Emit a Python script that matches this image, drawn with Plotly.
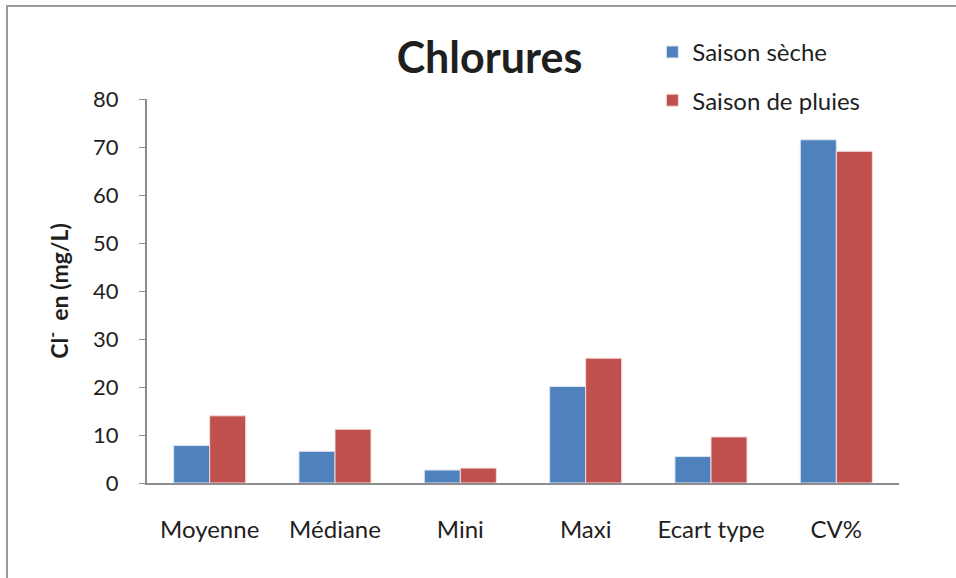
import plotly.graph_objects as go

categories = ["Moyenne", "Médiane", "Mini", "Maxi", "Ecart type", "CV%"]
saison_seche = [7.8, 6.6, 2.7, 20.1, 5.5, 71.5]
saison_pluies = [14.0, 11.2, 3.1, 26.0, 9.6, 69.1]
y_ticks = [0, 10, 20, 30, 40, 50, 60, 70, 80]

FONT = "Lato"
TEXT = "#1f1f1f"
AXIS = "#8c8c8c"

fig = go.Figure()
fig.add_trace(go.Bar(
    x=categories, y=saison_seche, name="Saison sèche",
    marker=dict(color="#4F81BD", line=dict(color="#dbe5f1", width=1)),
    legendgroup="a",
))
fig.add_trace(go.Bar(
    x=categories, y=saison_pluies, name="Saison de pluies",
    marker=dict(color="#C0504D", line=dict(color="#f2dcdb", width=1)),
    legendgroup="b",
))

fig.update_layout(
    width=956, height=578,
    margin=dict(l=147, r=57, t=99, b=95),
    paper_bgcolor="white", plot_bgcolor="white",
    barmode="group", bargap=0.425, bargroupgap=0,
    font=dict(family=FONT, color=TEXT),
    title=dict(
        text="<b>Chlorures</b>", font=dict(family=FONT, size=43, color=TEXT),
        x=0.512, xref="container", xanchor="center",
        y=1 - 58 / 578, yref="container", yanchor="middle",
    ),
    legend=dict(
        x=0.672, y=1.18, xanchor="left", yanchor="top",
        font=dict(family=FONT, size=24, color=TEXT),
        traceorder="grouped", tracegroupgap=14,
        itemwidth=30, bgcolor="rgba(0,0,0,0)",
    ),
    shapes=[dict(
        type="rect", xref="paper", yref="paper",
        x0=-140 / 752, x1=1.2, y0=-0.5, y1=(483 - 6) / 384,
        line=dict(color="#9a9a9a", width=2), fillcolor="rgba(0,0,0,0)",
        layer="below",
    )],
)

fig.update_xaxes(
    showline=True, linecolor=AXIS, linewidth=2,
    showgrid=False, ticks="", ticklabelstandoff=24,
    tickfont=dict(family=FONT, size=24, color=TEXT),
)
fig.update_yaxes(
    range=[0, 80], tickvals=y_ticks,
    showline=True, linecolor=AXIS, linewidth=2,
    showgrid=False, zeroline=False,
    ticks="outside", ticklen=6, tickcolor=AXIS, tickwidth=1,
    ticklabelstandoff=16,
    tickfont=dict(family=FONT, size=22, color=TEXT),
    title=dict(text="<b>Cl<sup>-</sup>  en (mg/L)</b>",
               font=dict(family=FONT, size=23, color=TEXT), standoff=18),
)

fig.write_html("out.html")
